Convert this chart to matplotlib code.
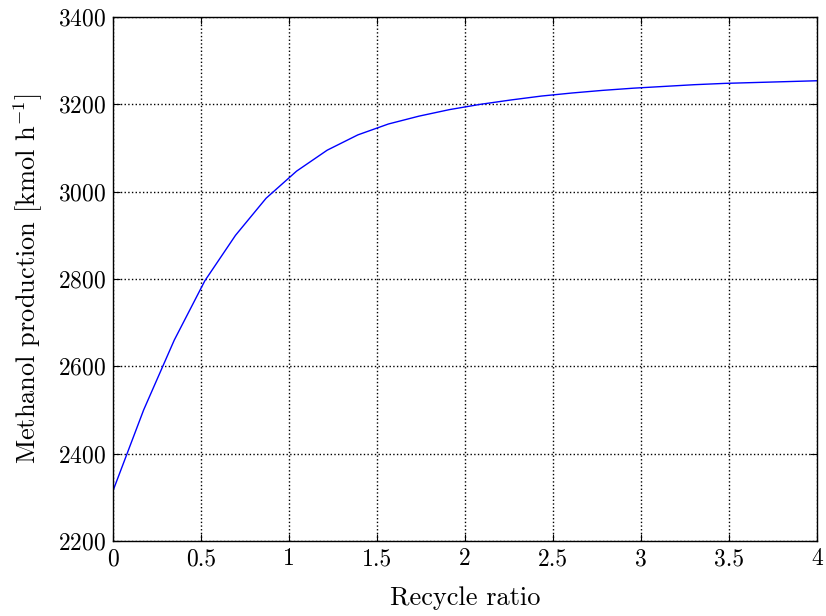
import numpy as np
import matplotlib
matplotlib.use('Agg')
import matplotlib.pyplot as plt

# dados
razao_reciclo = [0.0, 0.174, 0.348, 0.522, 0.696, 0.870, 1.043, 1.217, 1.391, 1.565,
                 1.739, 1.913, 2.087, 2.261, 2.435, 2.609, 2.783, 2.957, 3.130, 3.304,
                 3.478, 3.652, 3.826, 4.0]
producao_metanol = [2315, 2500, 2660, 2796, 2900, 2985, 3047, 3095, 3130, 3155,
                    3173, 3188, 3200, 3210, 3219, 3226, 3232, 3237, 3241, 3245,
                    3248, 3250, 3252, 3254]

plt.rcParams['font.family'] = 'cmr10'
plt.rcParams['mathtext.fontset'] = 'cm'
plt.rcParams['axes.unicode_minus'] = False
plt.rcParams['axes.formatter.use_mathtext'] = True

fig = plt.figure(figsize=(8.26, 6.16), dpi=100)
ax = fig.add_axes([113/826, 1 - 541/616, 704/826, 524/616])

ax.plot(razao_reciclo, producao_metanol, color='#0000ff', linewidth=1.0)

ax.set_xlim(0, 4)
ax.set_ylim(2200, 3400)
ax.set_xticks([0, 0.5, 1, 1.5, 2, 2.5, 3, 3.5, 4])
ax.set_xticklabels(['0', '0.5', '1', '1.5', '2', '2.5', '3', '3.5', '4'])
ax.set_yticks(np.arange(2200, 3401, 200))

ax.grid(True, color='black', linestyle=':', linewidth=1.0)
ax.tick_params(direction='in', top=True, right=True, length=5, labelsize=17, pad=5)
for s in ax.spines.values():
    s.set_linewidth(1.0)

ax.set_xlabel('Recycle ratio', fontsize=19, labelpad=12)
ax.set_ylabel(r'Methanol production [kmol h$^{-1}$]', fontsize=19, labelpad=9)

fig.savefig('out.png', dpi=100)
